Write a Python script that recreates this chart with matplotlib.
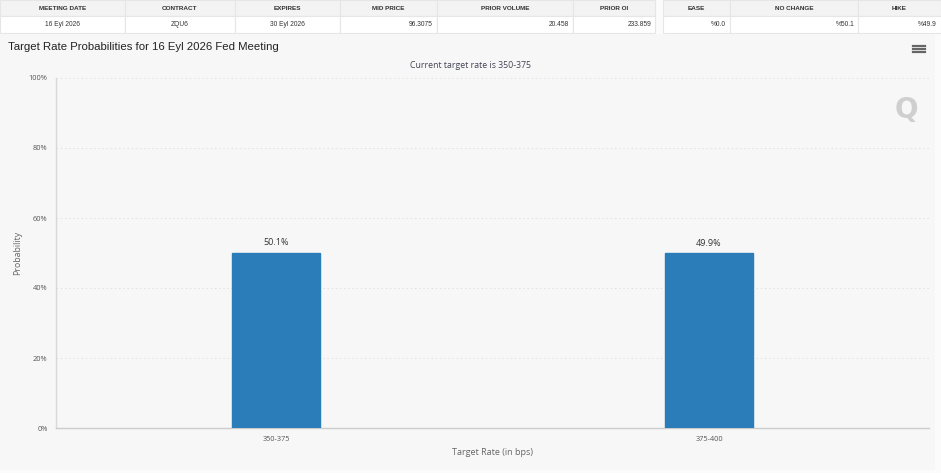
import matplotlib
matplotlib.use("Agg")
import matplotlib.pyplot as plt
from matplotlib.patches import Rectangle
from matplotlib.ticker import FuncFormatter, MultipleLocator

# ---- data ----
categories = ["350-375", "375-400"]
probabilities = [50.1, 49.9]
table1_headers = ["MEETING DATE", "CONTRACT", "EXPIRES", "MID PRICE", "PRIOR VOLUME", "PRIOR OI"]
table1_values = ["16 Eyl 2026", "ZQU6", "30 Eyl 2026", "96.3075", "20.458", "233.859"]
table2_headers = ["EASE", "NO CHANGE", "HIKE"]
table2_values = ["%0.0", "%50.1", "%49.9"]
title = "Target Rate Probabilities for 16 Eyl 2026 Fed Meeting"
subtitle = "Current target rate is 350-375"

W, H = 941, 473
fig = plt.figure(figsize=(W / 100, H / 100), dpi=100)
fig.patch.set_facecolor("#fbfbfb")

def fx(px):
    return px / W

def fy(py):
    return 1 - py / H

# chart background panel
fig.patches.append(Rectangle((0, fy(470)), fx(935), (470 - 34) / H,
                             transform=fig.transFigure, facecolor="#f7f7f7",
                             edgecolor="none", zorder=-5))

# ---- tables ----
t1_edges = [0, 125, 235, 340, 437, 573, 655]
t2_edges = [663, 730, 858, 941]
t1_align = ["center", "center", "center", "right", "right", "right"]
t2_align = ["right", "right", "right"]

def draw_table(edges, headers, values, aligns):
    for i, (h, v) in enumerate(zip(headers, values)):
        x0, x1 = edges[i], edges[i + 1]
        fig.patches.append(Rectangle((fx(x0), fy(16)), fx(x1 - x0), 16 / H,
                                     transform=fig.transFigure, facecolor="#f3f3f3",
                                     edgecolor="#e6e6e6", lw=0.8))
        fig.patches.append(Rectangle((fx(x0), fy(33)), fx(x1 - x0), 17 / H,
                                     transform=fig.transFigure, facecolor="#ffffff",
                                     edgecolor="#e6e6e6", lw=0.8))
        fig.text(fx((x0 + x1) / 2), fy(8), h, ha="center", va="center",
                 fontsize=4.6, fontweight="bold", color="#333333", family="Liberation Sans")
        if aligns[i] == "center":
            tx, ha = (x0 + x1) / 2, "center"
        else:
            tx, ha = x1 - 4, "right"
        fig.text(fx(tx), fy(24.5), v, ha=ha, va="center", fontsize=4.8,
                 color="#333333", family="Liberation Sans")

draw_table(t1_edges, table1_headers, table1_values, t1_align)
draw_table(t2_edges, table2_headers, table2_values, t2_align)

# ---- title / subtitle ----
fig.text(fx(8), fy(47), title, ha="left", va="center", fontsize=8.2,
         color="#222222", family="Liberation Sans")
fig.text(fx(470), fy(65), subtitle, ha="center", va="center", fontsize=6.3,
         color="#444455", family="Open Sans")

# hamburger menu icon
for dy in (-3, 0, 3):
    fig.lines.append(plt.Line2D([fx(913), fx(925)], [fy(49 + dy)] * 2,
                                transform=fig.transFigure, color="#666666", lw=1.6))

# ---- chart ----
ax = fig.add_axes([fx(56), fy(428), fx(929 - 56), (428 - 78) / H])
ax.set_zorder(5)
ax.set_facecolor("#f7f7f7")
x = list(range(len(categories)))
ax.bar(x, probabilities, width=0.203, color="#2a7db8", edgecolor="#2a7db8", zorder=3)
for xi, p in zip(x, probabilities):
    ax.text(xi, p + 1.5, f"{p:.1f}%", ha="center", va="bottom", fontsize=6.5,
            color="#333333", family="Open Sans")

ax.set_xlim(-0.508, len(categories) - 0.492)
ax.set_ylim(0, 100)
ax.yaxis.set_major_locator(MultipleLocator(20))
ax.yaxis.set_major_formatter(FuncFormatter(lambda v, _: f"{v:.0f}%"))
ax.set_xticks(x)
ax.set_xticklabels(categories)
ax.tick_params(axis="both", length=0, labelsize=5.3, colors="#555555", pad=6)
for lbl in ax.get_xticklabels() + ax.get_yticklabels():
    lbl.set_family("Open Sans")
ax.grid(axis="y", color="#e0e0e0", linestyle=(0, (2, 3)), lw=0.6, zorder=0)
for s in ("top", "right"):
    ax.spines[s].set_visible(False)
ax.spines["left"].set_color("#d8d8d8")
ax.spines["bottom"].set_color("#cccccc")
ax.spines["left"].set_linewidth(1.0)
ax.spines["bottom"].set_linewidth(1.0)

ax.set_xlabel("Target Rate (in bps)", fontsize=6.5, color="#666666", family="Open Sans", labelpad=3)
ax.set_ylabel("Probability", fontsize=6.3, color="#666666", family="Open Sans", labelpad=5)

# watermark
fig.text(fx(906), fy(110), "Q", ha="center", va="center", fontsize=20,
         fontweight="bold", color="#cfcfcf", family="DejaVu Sans", zorder=10)

fig.savefig("out.png", dpi=100, facecolor=fig.get_facecolor())
